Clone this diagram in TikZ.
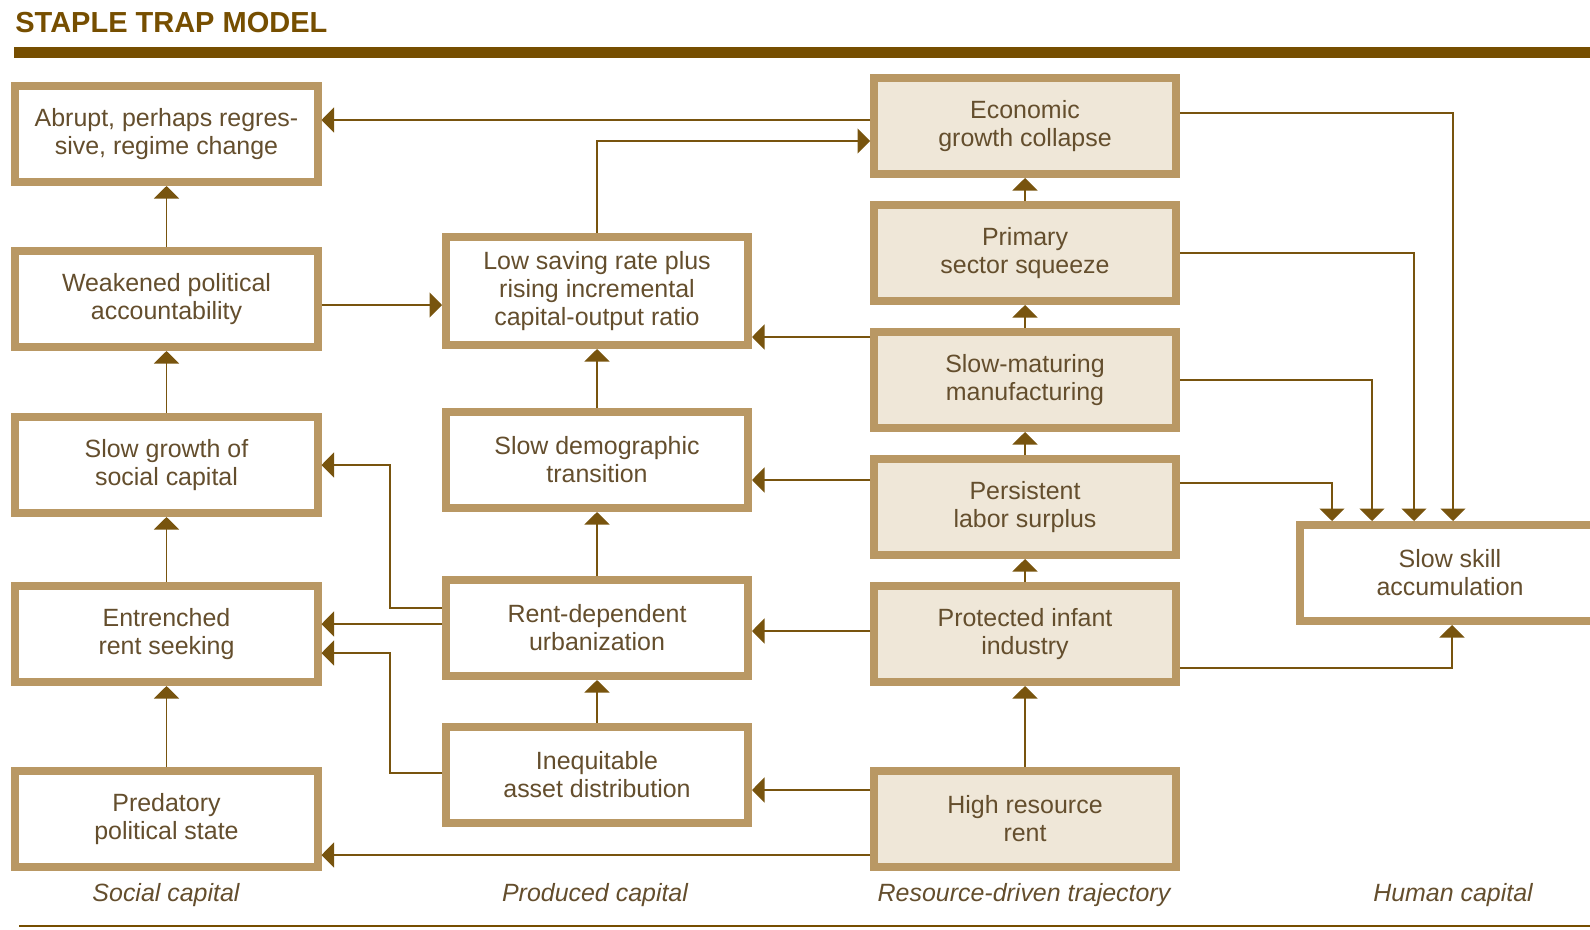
\documentclass[tikz,border=0pt]{standalone}
\usepackage{fontspec}
\setmainfont{Liberation Sans}
\usetikzlibrary{positioning}
\usetikzlibrary{arrows.meta}
\usetikzlibrary{calc}

\definecolor{frametan}{RGB}{185,152,100}
\definecolor{paper}{RGB}{239,231,216}
\definecolor{textbrown}{RGB}{100,78,45}
\definecolor{linebrown}{RGB}{120,84,14}
\definecolor{titlebrown}{RGB}{118,78,0}

\begin{document}
\begin{tikzpicture}[
        x = 0.2mm, y = -0.2mm,
        box/.style = {
            draw = frametan,
            line width = 1.6mm,
            fill = white,
            text = textbrown,
            align = center,
            minimum width = 60.4mm,
            minimum height = #1,
            inner sep = 0pt,
            font = \fontsize{14.2}{16}\selectfont
        },
        box/.default = 19.2mm,
        rbox/.style = {box, fill=paper},
        link/.style = {
            draw = linebrown,
            line width = 0.8pt,
            -{Triangle[length=2.5mm, width=5mm]}
        },
        foot/.style = {text=textbrown, font=\fontsize{14.2}{16}\selectfont\itshape}
        ]
        \useasboundingbox (0,0) rectangle (1590,929);
%
        \node[anchor=base west, inner sep=0pt, text=titlebrown, font=\fontsize{16.5}{18}\selectfont\bfseries] (title) at (15,32) {STAPLE TRAP MODEL};
        \fill[titlebrown] (14,47) rectangle (1590,58);
%
% social capital
        \node[box] (abrupt) at (166.5,134) {Abrupt, perhaps regres-\\sive, regime change};
        \node[box] (weak) at (166.5,299) {Weakened political\\accountability};
        \node[box] (sgrowth) at (166.5,465) {Slow growth of\\social capital};
        \node[box] (rentseek) at (166.5,634) {Entrenched\\rent seeking};
        \node[box] (predator) at (166.5,819) {Predatory\\political state};
%
% produced capital
        \node[box=21.6mm] (saving) at (597,291) {Low saving rate plus\\rising incremental\\capital-output ratio};
        \node[box] (demog) at (597,460) {Slow demographic\\transition};
        \node[box] (urban) at (597,628) {Rent-dependent\\urbanization};
        \node[box] (asset) at (597,775) {Inequitable\\asset distribution};
%
% resource-driven trajectory
        \node[rbox] (collapse) at (1025,126) {Economic\\growth collapse};
        \node[rbox] (squeeze) at (1025,253) {Primary\\sector squeeze};
        \node[rbox] (manuf) at (1025,380) {Slow-maturing\\manufacturing};
        \node[rbox] (surplus) at (1025,507) {Persistent\\labor surplus};
        \node[rbox] (infant) at (1025,634) {Protected infant\\industry};
        \node[rbox] (rent) at (1025,819) {High resource\\rent};
%
% human capital
        \node[box, minimum width=60mm] (skill) at (1450,573) {Slow skill\\accumulation};
%
        \node[foot] (lsocial) at (166,895) {Social capital};
        \node[foot] (lproduced) at (595,895) {Produced capital};
        \node[foot] (lresource) at (1024,895) {Resource-driven trajectory};
        \node[foot] (lhuman) at (1453,895) {Human capital};
        \draw[titlebrown, line width=0.4mm] (19,926) -- (1590,926);
%
% vertical chains
        \draw[link] (predator) -- (rentseek);
        \draw[link] (rentseek) -- (sgrowth);
        \draw[link] (sgrowth) -- (weak);
        \draw[link] (weak) -- (abrupt);
%
        \draw[link] (asset) -- (urban);
        \draw[link] (urban) -- (demog);
        \draw[link] (demog) -- (saving);
%
        \draw[link] (rent) -- (infant);
        \draw[link] (infant) -- (surplus);
        \draw[link] (surplus) -- (manuf);
        \draw[link] (manuf) -- (squeeze);
        \draw[link] (squeeze) -- (collapse);
%
% across the columns
        \draw[link] ($(collapse.west)+(0,-6)$) -- ($(abrupt.east)+(0,-14)$);
        \draw[link] (saving.north) |- ($(collapse.west)+(0,15)$);
        \draw[link] ($(weak.east)+(0,6)$) -- ($(saving.west)+(0,14)$);
        \draw[link] ($(manuf.west)+(0,-43)$) -- ($(saving.east)+(0,46)$);
        \draw[link] ($(surplus.west)+(0,-27)$) -- ($(demog.east)+(0,20)$);
        \draw[link] ($(infant.west)+(0,-3)$) -- ($(urban.east)+(0,3)$);
        \draw[link] ($(rent.west)+(0,-29)$) -- ($(asset.east)+(0,15)$);
        \draw[link] ($(rent.west)+(0,36)$) -- ($(predator.east)+(0,36)$);
%
        \draw[link] ($(urban.west)+(0,-20)$) -- ++(-52,0) |- (sgrowth.east);
        \draw[link] ($(urban.west)+(0,-4)$) -- ($(rentseek.east)+(0,-10)$);
        \draw[link] ($(asset.west)+(0,-2)$) -- ++(-52,0) |- ($(rentseek.east)+(0,19)$);
%
% into slow skill accumulation
        \draw[link] ($(collapse.east)+(0,-13)$) -| ($(skill.north west)+(157,0)$);
        \draw[link] (squeeze.east) -| ($(skill.north west)+(118,0)$);
        \draw[link] (manuf.east) -| ($(skill.north west)+(76,0)$);
        \draw[link] ($(surplus.east)+(0,-24)$) -| ($(skill.north west)+(36,0)$);
        \draw[link] ($(infant.east)+(0,34)$) -| ($(skill.south west)+(156,0)$);
    \end{tikzpicture}
\end{document}
